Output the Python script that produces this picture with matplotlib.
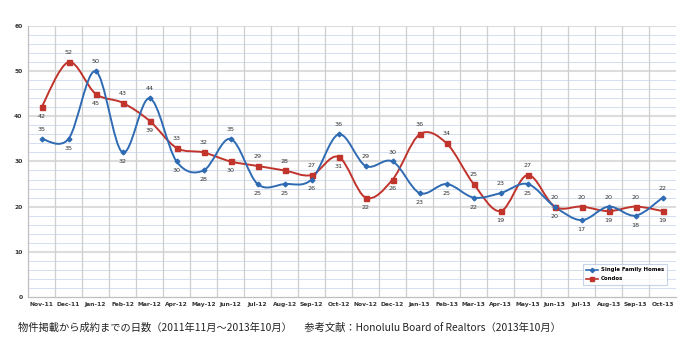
import matplotlib
matplotlib.use("Agg")
import matplotlib.pyplot as plt
from matplotlib.path import Path
from matplotlib.patches import PathPatch
import numpy as np

months = ["Nov-11", "Dec-11", "Jan-12", "Feb-12", "Mar-12", "Apr-12", "May-12", "Jun-12",
          "Jul-12", "Aug-12", "Sep-12", "Oct-12", "Nov-12", "Dec-12", "Jan-13", "Feb-13",
          "Mar-13", "Apr-13", "May-13", "Jun-13", "Jul-13", "Aug-13", "Sep-13", "Oct-13"]
single_family = [35, 35, 50, 32, 44, 30, 28, 35, 25, 25, 26, 36,
                 29, 30, 23, 25, 22, 23, 25, 20, 17, 20, 18, 22]
condos = [42, 52, 45, 43, 39, 33, 32, 30, 29, 28, 27, 31,
          22, 26, 36, 34, 25, 19, 27, 20, 20, 19, 20, 19]
# label above (1) or below (-1) each point
sf_pos = [1, -1, 1, -1, 1, -1, -1, 1, -1, -1, -1, 1,
          1, 1, -1, -1, -1, 1, -1, -1, -1, 1, -1, 1]
co_pos = [-1, 1, -1, 1, -1, 1, 1, -1, 1, 1, 1, -1,
          -1, -1, 1, 1, 1, -1, 1, 1, 1, -1, 1, -1]

BLUE = "#2f6bb3"
RED = "#c0342c"


def smooth_path(xs, ys):
    # Catmull-Rom style bezier, like a spreadsheet "smoothed line"
    pts = np.column_stack([xs, ys]).astype(float)
    verts = [pts[0]]
    codes = [Path.MOVETO]
    n = len(pts)
    for i in range(n - 1):
        p0 = pts[i - 1] if i > 0 else pts[i]
        p1 = pts[i]
        p2 = pts[i + 1]
        p3 = pts[i + 2] if i + 2 < n else pts[i + 1]
        c1 = p1 + (p2 - p0) / 6.0
        c2 = p2 - (p3 - p1) / 6.0
        verts += [c1, c2, p2]
        codes += [Path.CURVE4] * 3
    return Path(verts, codes)


fig = plt.figure(figsize=(6.9, 3.56), dpi=100)
ax = fig.add_axes([0.0406, 0.166, 0.9394, 0.761])

x = np.arange(len(months))
ax.set_xlim(-0.5, len(months) - 0.5)
ax.set_ylim(0, 60)

# grid
for yv in range(2, 60, 2):
    if yv % 10:
        ax.axhline(yv, color="#d3def2", lw=0.7, zorder=0)
for yv in range(10, 61, 10):
    ax.axhline(yv, color="#dcdcdc", lw=1.5, zorder=0)
for xv in np.arange(0.5, len(months) - 0.5, 1):
    ax.axvline(xv, color="#cfcfcf", lw=0.9, zorder=0)

for ys, col, mk, ms in [(condos, RED, "s", 3.6), (single_family, BLUE, "D", 2.4)]:
    ax.add_patch(PathPatch(smooth_path(x, ys), fill=False, edgecolor=col, lw=1.4, zorder=2))
    ax.plot(x, ys, ls="none", marker=mk, ms=ms, color=col, zorder=3)

for xs, ys, pos in [(x, single_family, sf_pos), (x, condos, co_pos)]:
    for xi, yi, p in zip(xs, ys, pos):
        ax.annotate(str(yi), (xi, yi), xytext=(0, 5 * p), textcoords="offset points",
                    ha="center", va="bottom" if p > 0 else "top", fontsize=4.6,
                    color="#333333", zorder=4)

ax.set_xticks(x)
ax.set_xticklabels(months, fontsize=4.3, fontweight="bold", color="#333333")
ax.set_yticks(range(0, 61, 10))
ax.set_yticklabels([str(v) for v in range(0, 61, 10)], fontsize=4.3, fontweight="bold",
                   color="#333333")
ax.tick_params(axis="both", length=0, pad=4)
for s in ["top", "right"]:
    ax.spines[s].set_visible(False)
for s in ["left", "bottom"]:
    ax.spines[s].set_color("#bfbfbf")
    ax.spines[s].set_linewidth(0.9)

h1, = ax.plot([], [], color=BLUE, marker="D", ms=2.2, lw=1.2)
h2, = ax.plot([], [], color=RED, marker="s", ms=3, lw=1.2)
leg = ax.legend([h1, h2], ["Single Family Homes", "Condos"], loc="lower right",
                bbox_to_anchor=(0.99, 0.035), frameon=True, fancybox=False,
                handlelength=2.3, handletextpad=0.4, borderpad=0.6, labelspacing=0.75,
                prop={"size": 3.9, "weight": "bold"})
leg.get_frame().set_edgecolor("#b8c8e4")
leg.get_frame().set_linewidth(0.8)

fig.text(0.026, 0.08,
         "物件掲載から成約までの日数（2011年11月～2013年10月）　 参考文献：Honolulu Board of Realtors（2013年10月）",
         fontsize=7.4, family=["Noto Sans CJK JP", "DejaVu Sans"], color="#222222",
         va="center")

fig.savefig("out.png", dpi=100)
